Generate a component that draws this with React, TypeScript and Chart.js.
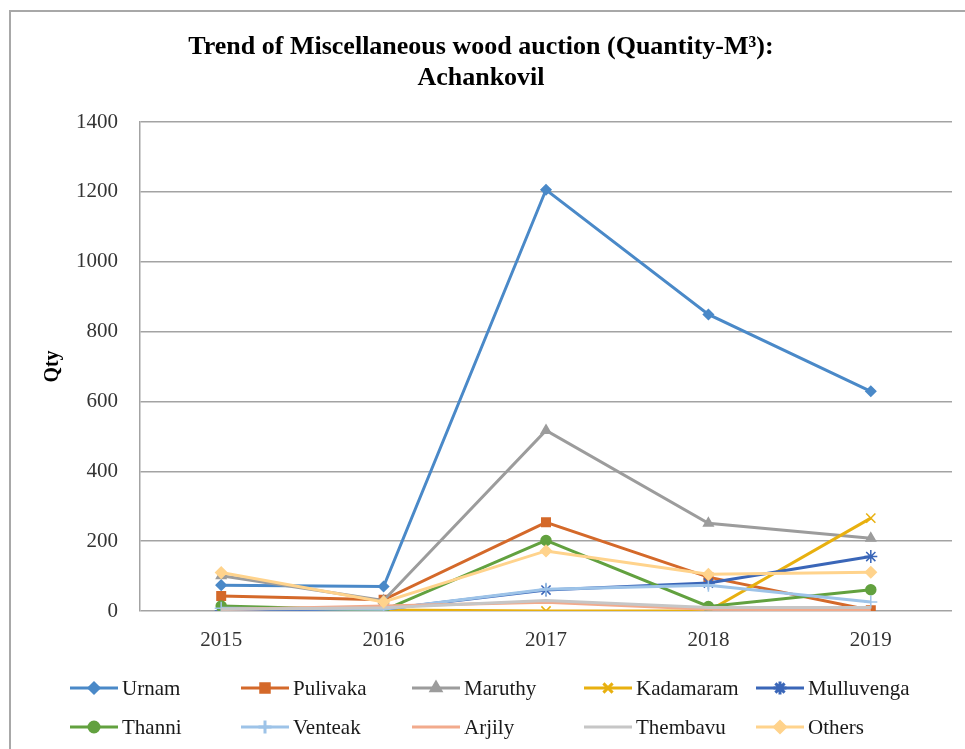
import React, { useEffect, useRef } from "react";
import { Chart, registerables } from "chart.js";
import { drawPoint } from "chart.js/helpers";

Chart.register(...registerables);

const years = ["2015", "2016", "2017", "2018", "2019"];
const seriesNames = ["Urnam", "Pulivaka", "Maruthy", "Kadamaram", "Mulluvenga", "Thanni", "Venteak", "Arjily", "Thembavu", "Others"];
const urnam = [74, 70, 1206, 849, 629];
const pulivaka = [43, 32, 254, 97, 2];
const maruthy = [101, 30, 517, 251, 208];
const kadamaram = [0, 3, 0, 0, 266];
const mulluvenga = [0, 5, 60, 80, 156];
const thanni = [14, 2, 202, 13, 61];
const venteak = [8, 5, 62, 74, 26];
const arjily = [4, 14, 25, 5, 3];
const thembavu = [5, 9, 30, 10, 10];
const others = [110, 26, 172, 105, 111];
const seriesValues = [urnam, pulivaka, maruthy, kadamaram, mulluvenga, thanni, venteak, arjily, thembavu, others];
const seriesColors = ["#4A89C8", "#D4692A", "#9C9C9C", "#E8B00F", "#3A66B8", "#62A13F", "#9DC3E8", "#F2AA8C", "#C6C6C6", "#FFD38C"];
const seriesMarkers: any[] = ["rectRot", "rect", "triangle", "crossRot", "star", "circle", "cross", false, false, "rectRot"];
const markerSizes = [5, 6, 5.5, 6.5, 6.5, 5, 6.5, 0, 0, 5.5];
const yTicks = { min: 0, max: 1400, step: 200 };
const titleLines = ["Trend of Miscellaneous wood auction (Quantity-M\u00B3):", "Achankovil"];
const yTitle = "Qty";

const SERIF = "'Liberation Serif', 'Times New Roman', serif";

const overlayPlugin = {
  id: "overlay",
  afterDraw(chart: any) {
    const ctx = chart.ctx;
    ctx.save();
    // title
    ctx.fillStyle = "#000";
    ctx.font = `bold 26px ${SERIF}`;
    ctx.textAlign = "center";
    ctx.textBaseline = "middle";
    ctx.fillText(titleLines[0], 481, 47);
    ctx.fillText(titleLines[1], 481, 78);
    // legend
    const colStarts = [70, 241, 412, 584, 756];
    const rowYs = [688, 727];
    ctx.font = `21px ${SERIF}`;
    ctx.textAlign = "left";
    chart.data.datasets.forEach((ds: any, i: number) => {
      const col = i % 5;
      const row = Math.floor(i / 5);
      const x0 = colStarts[col];
      const y = rowYs[row];
      ctx.strokeStyle = ds.borderColor;
      ctx.lineWidth = 3;
      ctx.beginPath();
      ctx.moveTo(x0, y);
      ctx.lineTo(x0 + 48, y);
      ctx.stroke();
      if (seriesMarkers[i]) {
        ctx.fillStyle = ds.borderColor;
        ctx.strokeStyle = ds.borderColor;
        drawPoint(ctx, { pointStyle: seriesMarkers[i], radius: markerSizes[i], rotation: 0, borderWidth: 1.5 }, x0 + 24, y);
      }
      ctx.fillStyle = "#1a1a1a";
      ctx.fillText(ds.label, x0 + 52, y + 1);
    });
    ctx.restore();
  },
};

export default function App() {
  const ref = useRef<HTMLCanvasElement>(null);
  useEffect(() => {
    if (!ref.current) return;
    const n = seriesNames.length;
    const chart = new Chart(ref.current, {
      type: "line",
      data: {
        labels: years,
        datasets: seriesNames.map((name, i) => ({
          label: name,
          data: seriesValues[i],
          borderColor: seriesColors[i],
          backgroundColor: seriesColors[i],
          pointBackgroundColor: seriesColors[i],
          pointBorderColor: seriesColors[i],
          borderWidth: 3,
          pointStyle: seriesMarkers[i] || "circle",
          pointRadius: markerSizes[i],
          pointBorderWidth: 1.5,
          tension: 0,
          fill: false,
          order: n - i,
        })),
      },
      options: {
        responsive: false,
        animation: false,
        maintainAspectRatio: false,
        layout: { padding: { top: 122, right: 13, bottom: 98, left: 0 } },
        plugins: {
          legend: { display: false },
          title: { display: false },
          tooltip: { enabled: false },
        },
        scales: {
          x: {
            offset: true,
            grid: { display: false, drawTicks: false },
            border: { display: false },
            ticks: { padding: 17, color: "#333", font: { family: SERIF, size: 21 } },
            afterFit: (s: any) => { s.height = 40; },
          },
          y: {
            min: yTicks.min,
            max: yTicks.max,
            ticks: {
              stepSize: yTicks.step,
              padding: 22,
              color: "#333",
              font: { family: SERIF, size: 21 },
              callback: (v: any) => String(v),
            },
            grid: { color: "#A3A3A3", lineWidth: 1.5, drawTicks: false },
            border: { display: true, color: "#A3A3A3", width: 1.5 },
            title: {
              display: true,
              text: yTitle,
              color: "#000",
              font: { family: SERIF, size: 20, weight: "bold" },
              padding: { top: 41, bottom: 0 },
            },
            afterFit: (s: any) => { s.width = 140; },
          },
        },
      },
      plugins: [overlayPlugin],
    });
    return () => chart.destroy();
  }, []);
  return (
    <div style={{ position: "fixed", left: 0, top: 0, width: 965, height: 749, background: "#fff", overflow: "hidden" }}>
      <div style={{ position: "absolute", left: 9, top: 10, width: 1000, height: 800, border: "2px solid #A8A8A8", boxSizing: "border-box" }} />
      <canvas ref={ref} width={965} height={749} style={{ position: "absolute", left: 0, top: 0 }} />
    </div>
  );
}
